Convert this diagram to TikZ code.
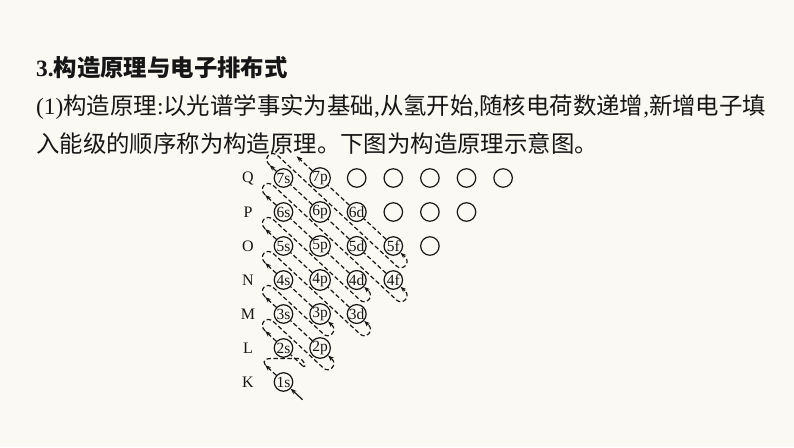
\documentclass[tikz,border=0pt]{standalone}
\usepackage{fontspec}
\setmainfont{Liberation Serif}
\newfontfamily\cjkfont{Noto Sans CJK SC}
\usetikzlibrary{calc,arrows.meta}
\definecolor{paper}{RGB}{251,249,244}
\definecolor{ink}{RGB}{22,22,22}

\begin{document}
\begin{tikzpicture}[
    x=1pt, y=-1pt,
    >={Stealth[length=6pt,width=4.5pt]},
    every node/.style={text=ink},
    heading/.style={anchor=west,inner sep=0pt,font=\fontsize{23.4}{27}\selectfont},
    shell/.style={font=\fontsize{16}{16}\selectfont},
    orb/.style={circle,draw=ink,line width=1.2pt,minimum size=18.5pt,inner sep=0pt,
      font=\fontsize{15.5}{15.5}\selectfont},
    track/.style={draw=ink,line width=1.2pt,dash pattern=on 4.5pt off 2.5pt},
    go/.style={track,->},
    feed/.style={draw=ink,line width=1.2pt,->},
  ]
  \useasboundingbox (0,0) rectangle (794,447);
  \fill[paper] (0,0) rectangle (794,447);

  % Text above the diagram
  \node[heading,font=\fontsize{23.4}{27}\selectfont\bfseries] (title) at (36,68)
    {3.{\cjkfont 构造原理与电子排布式}};
  \node[heading] (intro) at (36,107)
    {(1){\cjkfont 构造原理}:{\cjkfont 以光谱学事实为基础},{\cjkfont 从氢开始},{\cjkfont 随核电荷数递增},{\cjkfont 新增电子填}};
  \node[heading] (introb) at (36,144)
    {{\cjkfont 入能级的顺序称为构造原理。下图为构造原理示意图。}};

  % Shell letters
  \foreach \n/\lab in {1/K, 2/L, 3/M, 4/N, 5/O, 6/P, 7/Q}
    \node[shell] (\lab) at (248, 416-34*\n) {\lab};

  % Orbitals
  \foreach \n/\c/\t in {1/0/s, 2/0/s, 2/1/p, 3/0/s, 3/1/p, 3/2/d,
                        4/0/s, 4/1/p, 4/2/d, 4/3/f, 5/0/s, 5/1/p, 5/2/d, 5/3/f,
                        6/0/s, 6/1/p, 6/2/d, 7/0/s, 7/1/p}
    \node[orb] (o\n\t) at (283.5+36.6*\c, 416-34*\n) {\n\t};

  % Empty orbitals
  \foreach \n/\c in {5/4, 6/3, 6/4, 6/5, 7/2, 7/3, 7/4, 7/5, 7/6}
    \node[orb] (e\n\c) at (283.5+36.6*\c, 416-34*\n) {};

  % Directions: along a diagonal (u) and across it (v)
  \coordinate (u) at (-0.7327,-0.6807);
  \coordinate (v) at (0.6807,-0.7327);

  % Start and end of every diagonal
  \foreach \k/\b/\t/\lb/\lt in {1/o1s/o1s/26/25, 2/o2s/o2s/26/25, 3/o2p/o3s/16/25,
                                4/o3p/o4s/16/25, 5/o3d/o5s/16/25, 6/o4d/o6s/16/25,
                                7/o4f/o7s/16/19, 8/o5f/o7p/16/32} {
    \coordinate (S\k) at ($(\b)-\lb*(u)$);
    \coordinate (E\k) at ($(\t)+\lt*(u)$);
  }

  % Way into 1s
  \draw[feed] (S1) -- (o1s);

  % Diagonals
  \draw[track] (S2) -- (o2s);
  \foreach \k/\b in {3/o2p, 4/o3p, 5/o3d, 6/o4d, 7/o4f, 8/o5f}
    \draw[go] (S\k) -- (\b);
  \foreach \a/\b in {o2p/o3s, o3p/o4s, o3d/o4p, o4p/o5s, o4d/o5p, o5p/o6s,
                     o4f/o5d, o5d/o6p, o6p/o7s, o5f/o6d, o6d/o7p}
    \draw[track] (\a) -- (\b);
  \foreach \k/\t in {1/o1s, 2/o2s, 3/o3s, 4/o4s, 5/o5s, 6/o6s, 7/o7s, 8/o7p}
    \draw[go] (\t) -- (E\k);

  % Hairpins from one diagonal to the next
  \draw[track] (E1) .. controls +(-3,-4.5) and +(-5,0) .. (271,358.5)
    -- (298,358.5) .. controls +(7,0) and ($(S2)-6*(u)$) .. (S2);
  \foreach \k [evaluate=\k as \m using int(\k+1)] in {2,...,7}
    \draw[track] (E\k) .. controls ($(E\k)+10*(u)$) and ($(E\k)+12.45*(v)+10*(u)$)
      .. ($(E\k)+12.45*(v)$) -- ($(S\m)-12.45*(v)$)
      .. controls ($(S\m)-12.45*(v)-8.3*(u)$) and ($(S\m)-8.3*(u)$) .. (S\m);
\end{tikzpicture}
\end{document}
